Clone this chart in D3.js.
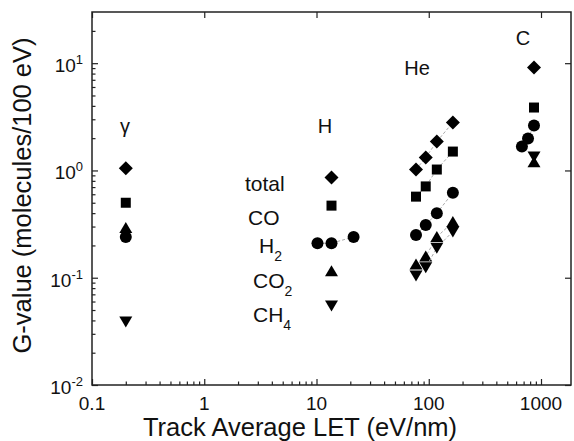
<!DOCTYPE html>
<html>
<head>
<meta charset="utf-8">
<script src="https://cdn.jsdelivr.net/npm/d3@7"></script>
<style>
  body { margin: 0; background: #fff; }
  svg { display: block; }
  text { font-family: "Liberation Sans", Arial, sans-serif; fill: #111; }
</style>
</head>
<body>
<svg width="574" height="441"></svg>
<script>
// ---- data ----
const xMajor = [0.1, 1, 10, 100, 1000]
const xLabels = ["0.1", "1", "10", "100", "1000"]
const yMajor = [0.01, 0.1, 1, 10]
const yExp = ["-2", "-1", "0", "1"]

const speciesNames = ["total", "CO", "H", "CO", "CH"]
const speciesSubs = ["", "", "2", "2", "4"]

// gamma rays
const gammaLET = [0.2]
const gammaTotal = [1.05]
const gammaCO = [0.50]
const gammaH2 = [0.24]
const gammaCO2 = [0.29]
const gammaCH4 = [0.039]

// H ions
const hLET = [13.6]
const hTotal = [0.86]
const hCO = [0.47]
const hH2LET = [10.2, 13.6, 21.4]
const hH2 = [0.21, 0.21, 0.24]
const hCO2 = [0.115]
const hCH4 = [0.055]

// He ions
const heLET = [77, 94, 118, 164]
const heTotal = [1.02, 1.32, 1.86, 2.80]
const heCO = [0.57, 0.71, 1.02, 1.50]
const heH2 = [0.25, 0.31, 0.40, 0.62]
const heCO2 = [0.133, 0.158, 0.24, 0.33]
const heCH4 = [0.105, 0.125, 0.19, 0.27]

// C ions
const cLET = [866]
const cTotal = [9.1]
const cCO = [3.86]
const cH2LET = [676, 766, 866]
const cH2 = [1.67, 1.99, 2.63]
const cCO2 = [1.19]
const cCH4 = [1.35]

const groupNames = ["\u03b3", "H", "He", "C"]

///////////////////////

const margin = {top: 12, right: 3, bottom: 56, left: 92}
const W = 574, H = 441
const x = d3.scaleLog().domain([0.1, 1850]).range([margin.left, W - margin.right])
const y = d3.scaleLog().domain([0.01, 30]).range([H - margin.bottom, margin.top])

const svg = d3.select("svg")

const minors = (lo, hi) => {
    const out = []
    for (let d = lo; d < hi; d *= 10)
        for (let k = 2; k <= 9; k++) if (d * k < hi) out.push(d * k)
    return out
}
const xMinor = minors(0.1, 1850)
const yMinor = minors(0.01, 30)

const y0 = y.range()[0], y1 = y.range()[1]
const x0 = x.range()[0], x1 = x.range()[1]

// axes: ticks point inward
const tickAxis = (gen, tr, size) => {
    const g = svg.append("g").attr("transform", tr)
        .call(gen.tickSize(size).tickFormat(""))
    g.select(".domain").remove()
    g.selectAll("line").attr("stroke", "#222").attr("stroke-width", 1.2)
}
tickAxis(d3.axisBottom(x).tickValues(xMajor), `translate(0,${y0})`, -6)
tickAxis(d3.axisBottom(x).tickValues(xMinor), `translate(0,${y0})`, -3.5)
tickAxis(d3.axisTop(x).tickValues(xMajor), `translate(0,${y1})`, -6)
tickAxis(d3.axisLeft(y).tickValues(yMajor), `translate(${x0},0)`, -6)
tickAxis(d3.axisLeft(y).tickValues(yMinor), `translate(${x0},0)`, -3.5)
tickAxis(d3.axisRight(y).tickValues(yMajor), `translate(${x1},0)`, -6)

// frame
svg.append("rect")
    .attr("x", x0).attr("y", y1)
    .attr("width", x1 - x0).attr("height", y0 - y1)
    .attr("fill", "none").attr("stroke", "#222").attr("stroke-width", 1.5)

// tick labels
svg.selectAll(".xlab").data(xMajor).enter().append("text")
    .attr("x", d => x(d)).attr("y", y0 + 25)
    .attr("text-anchor", "middle").attr("font-size", 19)
    .text((d, i) => xLabels[i])

const yl = svg.selectAll(".ylab").data(yMajor).enter().append("text")
    .attr("x", x0 - 9).attr("y", d => y(d) + 9)
    .attr("text-anchor", "end").attr("font-size", 19)
yl.append("tspan").text("10")
yl.append("tspan").attr("dy", -8).attr("font-size", 13).text((d, i) => yExp[i])

// axis titles
svg.append("text")
    .attr("x", 300).attr("y", 436)
    .attr("text-anchor", "middle").attr("font-size", 25.5)
    .text("Track Average LET (eV/nm)")
svg.append("text")
    .attr("transform", `translate(31,${(y0 + y1) / 2 - 3}) rotate(-90)`)
    .attr("text-anchor", "middle").attr("font-size", 25.5)
    .text("G-value (molecules/100 eV)")

/////////////////////////////////////////////
// marker shapes
const shapes = {
    diamond: "M0,-7L7,0L0,7L-7,0Z",
    square: "M-5,-5H5V5H-5Z",
    circle: d3.symbol(d3.symbolCircle, Math.PI * 36)(),
    up: "M0,-6L6.5,5L-6.5,5Z",
    down: "M0,6L6.5,-5L-6.5,-5Z"
}

function drawSeries(xs, ys, shape, link) {
    const pts = xs.map((v, i) => [v, ys[i]])
    if (link && pts.length > 1) {
        svg.append("path")
            .attr("d", d3.line().x(d => x(d[0])).y(d => y(d[1]))(pts))
            .attr("fill", "none").attr("stroke", "#aaa")
            .attr("stroke-width", 1).attr("stroke-dasharray", "3,2")
    }
    svg.append("g").selectAll("path").data(pts).enter().append("path")
        .attr("transform", d => `translate(${x(d[0])},${y(d[1])})`)
        .attr("d", shapes[shape])
        .attr("fill", "#000")
}

drawSeries(gammaLET, gammaTotal, "diamond")
drawSeries(gammaLET, gammaCO, "square")
drawSeries(gammaLET, gammaCO2, "up")
drawSeries(gammaLET, gammaH2, "circle")
drawSeries(gammaLET, gammaCH4, "down")

drawSeries(hLET, hTotal, "diamond")
drawSeries(hLET, hCO, "square")
drawSeries(hH2LET, hH2, "circle", true)
drawSeries(hLET, hCO2, "up")
drawSeries(hLET, hCH4, "down")

drawSeries(heLET, heTotal, "diamond", true)
drawSeries(heLET, heCO, "square", true)
drawSeries(heLET, heH2, "circle", true)
drawSeries(heLET, heCO2, "up", true)
drawSeries(heLET, heCH4, "down", true)

drawSeries(cLET, cTotal, "diamond")
drawSeries(cLET, cCO, "square")
drawSeries(cH2LET, cH2, "circle", true)
drawSeries(cLET, cCO2, "up")
drawSeries(cLET, cCH4, "down")

// group labels
const groupPos = [[125, 133], [325, 133], [417, 75], [523, 45]]
svg.selectAll(".grp").data(groupNames).enter().append("text")
    .attr("x", (d, i) => groupPos[i][0]).attr("y", (d, i) => groupPos[i][1])
    .attr("text-anchor", "middle").attr("font-size", 20)
    .text(d => d)

// species names next to the H column
const namePos = [[245, 191], [248, 225], [259, 253], [253, 288], [253, 322]]
const nm = svg.selectAll(".nm").data(speciesNames).enter().append("text")
    .attr("x", (d, i) => namePos[i][0]).attr("y", (d, i) => namePos[i][1])
    .attr("font-size", 21)
nm.append("tspan").text(d => d)
nm.append("tspan").attr("dy", 8).attr("font-size", 14).text((d, i) => speciesSubs[i])
</script>
</body>
</html>
